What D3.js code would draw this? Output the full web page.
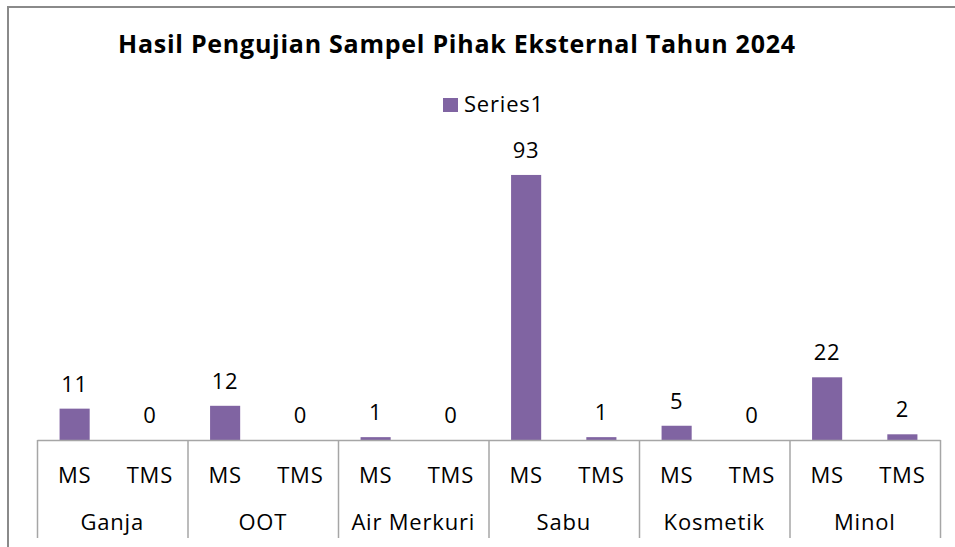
<html>
<head>
<script src="https://d3js.org/d3.v7.min.js"></script>
<style>
    body { margin: 0; background: #fff; }
    svg text { font-family: 'Open Sans', 'Noto Sans', sans-serif; fill: #000; }
    .title { font-weight: bold; font-size: 25px; }
    .lbl, .cat { font-size: 22px; letter-spacing: 0.8px; }
    .axis path, .axis line { stroke: #a6a6a6; stroke-width: 1.5px; }
</style>
</head>
<body>
<div id="chart"></div>
<script>
    // Chart data
    const groups = ['Ganja', 'OOT', 'Air Merkuri', 'Sabu', 'Kosmetik', 'Minol'];
    const subCats = ['MS', 'TMS'];
    const msValues = [11, 12, 1, 93, 5, 22];
    const tmsValues = [0, 0, 0, 1, 0, 2];
    const seriesName = 'Series1';
    const title = 'Hasil Pengujian Sampel Pihak Eksternal Tahun 2024';

    const width = 955, height = 547;
    const plot = { left: 37, right: 940, top: 155, axisY: 440, bottom: 538 };

    const rows = [];
    groups.forEach((g, i) => {
        rows.push({ group: g, sub: 'MS', value: msValues[i] });
        rows.push({ group: g, sub: 'TMS', value: tmsValues[i] });
    });

    const svg = d3.select('#chart').append('svg')
        .attr('width', width)
        .attr('height', height);

    // outer chart border (cut off at right and bottom like the reference)
    svg.append('rect')
        .attr('x', 8).attr('y', 7)
        .attr('width', 1000).attr('height', 600)
        .attr('fill', 'none')
        .attr('stroke', '#8a8a8a')
        .attr('stroke-width', 2);

    // scales
    const x0 = d3.scaleBand().domain(groups).range([plot.left, plot.right]);
    const x1 = d3.scaleBand().domain(subCats).range([0, x0.bandwidth()]);
    const y = d3.scaleLinear().domain([0, 100]).range([plot.axisY, plot.top]);
    const barW = x1.bandwidth() * 0.4;

    // bars
    svg.selectAll('.bar')
        .data(rows)
        .enter()
        .append('rect')
        .attr('class', 'bar')
        .attr('x', d => x0(d.group) + x1(d.sub) + (x1.bandwidth() - barW) / 2)
        .attr('y', d => y(d.value))
        .attr('width', barW)
        .attr('height', d => plot.axisY - y(d.value))
        .attr('fill', '#8064a2');

    // value labels
    svg.selectAll('.lbl')
        .data(rows)
        .enter()
        .append('text')
        .attr('class', 'lbl')
        .attr('x', d => x0(d.group) + x1(d.sub) + x1.bandwidth() / 2)
        .attr('y', d => y(d.value) - 17)
        .attr('text-anchor', 'middle')
        .text(d => d.value);

    // category axis: separators between groups
    const edge = d3.scaleLinear().domain([0, groups.length]).range([plot.left, plot.right]);
    svg.append('g')
        .attr('class', 'axis')
        .attr('transform', `translate(0,${plot.axisY})`)
        .call(d3.axisBottom(edge)
            .tickValues(d3.range(groups.length + 1))
            .tickSize(plot.bottom - plot.axisY)
            .tickSizeOuter(0)
            .tickFormat(''));

    // sub category labels
    svg.selectAll('.sub')
        .data(rows)
        .enter()
        .append('text')
        .attr('class', 'cat')
        .attr('x', d => x0(d.group) + x1(d.sub) + x1.bandwidth() / 2)
        .attr('y', 483)
        .attr('text-anchor', 'middle')
        .text(d => d.sub);

    // group labels
    svg.selectAll('.grp')
        .data(groups)
        .enter()
        .append('text')
        .attr('class', 'cat')
        .attr('x', d => x0(d) + x0.bandwidth() / 2)
        .attr('y', 530)
        .attr('text-anchor', 'middle')
        .text(d => d);

    // title
    svg.append('text')
        .attr('class', 'title')
        .attr('x', 118)
        .attr('y', 53)
        .attr('textLength', 677)
        .attr('lengthAdjust', 'spacing')
        .text(title);

    // legend
    svg.append('rect')
        .attr('x', 443).attr('y', 98)
        .attr('width', 15).attr('height', 14)
        .attr('fill', '#8064a2');
    svg.append('text')
        .attr('class', 'lbl')
        .attr('x', 464)
        .attr('y', 112)
        .text(seriesName);
</script>
</body>
</html>
